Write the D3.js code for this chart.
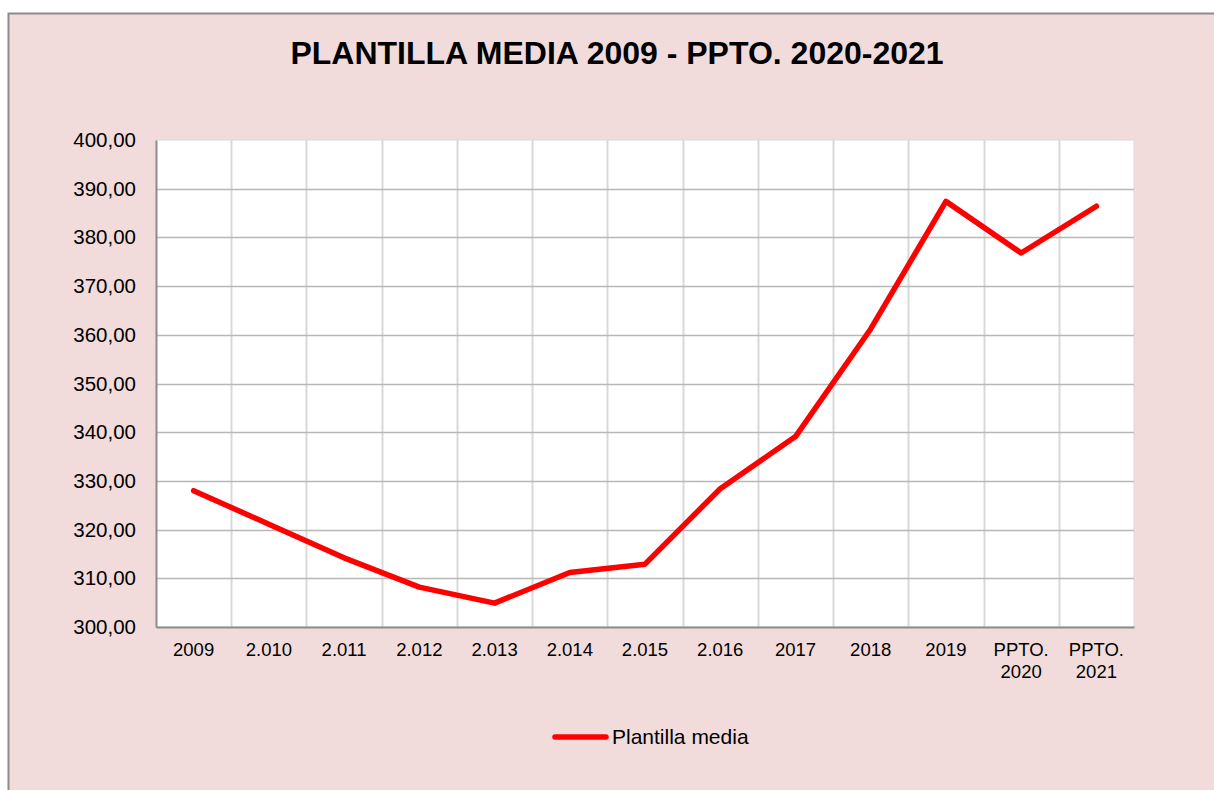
<!DOCTYPE html>
<html>
  <head>
    <meta charset="utf-8">
    <script src="https://d3js.org/d3.v7.min.js"></script>
    <title>Plantilla media</title>
    <style>
      body { margin: 0; background: #ffffff; }
      svg { display: block; font-family: "Liberation Sans", Arial, sans-serif; }
    </style>
  </head>
  <body>
  <script>
    // data
    var categories = ["2009", "2.010", "2.011", "2.012", "2.013", "2.014", "2.015",
                      "2.016", "2017", "2018", "2019", "PPTO. 2020", "PPTO. 2021"];
    var plantilla = [328.0, 321.1, 314.2, 308.2, 304.9, 311.2, 312.9,
                     328.4, 339.1, 361.2, 387.4, 376.8, 386.4];
    var yTicks = [300, 310, 320, 330, 340, 350, 360, 370, 380, 390, 400];
    var title = "PLANTILLA MEDIA 2009 - PPTO. 2020-2021";
    var seriesName = "Plantilla media";

    var width = 1214, height = 790;
    var plot = {left: 156, top: 140, right: 1134, bottom: 627};

    var svg = d3.select("body").append("svg")
              .attr("width", width)
              .attr("height", height);

    // chart area
    svg.append("rect")
       .attr("x", 8).attr("y", 13)
       .attr("width", width - 8).attr("height", height - 13)
       .style("fill", "#f2dcdb");
    svg.append("path")
       .attr("d", "M8.5," + height + "V13.5H" + width)
       .attr("fill", "none")
       .attr("stroke", "#8c8c8c")
       .attr("stroke-width", 2);

    svg.append("text")
       .attr("x", 617).attr("y", 64)
       .attr("text-anchor", "middle")
       .style("font-size", "32px")
       .style("font-weight", "bold")
       .style("fill", "#000")
       .text(title);

    var x = d3.scaleBand().domain(categories).range([plot.left, plot.right]);
    var y = d3.scaleLinear().domain([300, 400]).range([plot.bottom, plot.top]);

    svg.append("rect")
       .attr("x", plot.left).attr("y", plot.top)
       .attr("width", plot.right - plot.left).attr("height", plot.bottom - plot.top)
       .style("fill", "#ffffff")
       .attr("stroke", "#d9d9d9");

    // vertical grid on category boundaries
    svg.selectAll(".vgrid")
       .data(categories.slice(1))
       .enter().append("line")
       .attr("class", "vgrid")
       .attr("x1", function(d) { return Math.round(x(d)) + 0.5; })
       .attr("x2", function(d) { return Math.round(x(d)) + 0.5; })
       .attr("y1", plot.top).attr("y2", plot.bottom)
       .attr("stroke", "#d9d9d9").attr("stroke-width", 2);

    // horizontal grid
    svg.selectAll(".hgrid")
       .data(yTicks.slice(1, -1))
       .enter().append("line")
       .attr("class", "hgrid")
       .attr("x1", plot.left).attr("x2", plot.right)
       .attr("y1", function(d) { return Math.round(y(d)) + 0.5; })
       .attr("y2", function(d) { return Math.round(y(d)) + 0.5; })
       .attr("stroke", "#b8b8b8").attr("stroke-width", 1.5);

    // y axis
    var yAxis = svg.append("g")
       .attr("transform", "translate(" + plot.left + ",0)")
       .call(d3.axisLeft(y).tickValues(yTicks).tickSize(0).tickPadding(20)
             .tickFormat(function(d) { return d3.format(".2f")(d).replace(".", ","); }));
    yAxis.select(".domain").attr("stroke", "#8c8c8c").attr("stroke-width", 2);
    yAxis.selectAll("text").style("font-size", "20.5px").style("fill", "#000")
         .style("font-family", "'Liberation Sans', Arial, sans-serif");

    // x axis
    var xAxis = svg.append("g")
       .attr("transform", "translate(0," + plot.bottom + ")")
       .call(d3.axisBottom(x).tickSize(0).tickPadding(16));
    xAxis.select(".domain").attr("stroke", "#8c8c8c").attr("stroke-width", 2);
    xAxis.selectAll("text")
         .style("font-size", "18.5px").style("fill", "#000")
         .style("font-family", "'Liberation Sans', Arial, sans-serif")
         .each(function(d) {
           var parts = d.split(" ");
           var t = d3.select(this).text(null);
           parts.forEach(function(p, i) {
             t.append("tspan").attr("x", 0).attr("dy", i === 0 ? "0.71em" : "1.2em").text(p);
           });
         });

    // series line
    var line = d3.line()
       .x(function(d, i) { return x(categories[i]) + x.bandwidth() / 2; })
       .y(function(d) { return y(d); });

    svg.append("path")
       .datum(plantilla)
       .attr("d", line)
       .attr("fill", "none")
       .attr("stroke", "#ff0000")
       .attr("stroke-width", 5.5)
       .attr("stroke-linejoin", "round")
       .attr("stroke-linecap", "round");

    // legend
    var legend = svg.append("g").attr("transform", "translate(555,737)");
    legend.append("line")
       .attr("x1", 0).attr("x2", 51).attr("y1", 0).attr("y2", 0)
       .attr("stroke", "#ff0000").attr("stroke-width", 5.5)
       .attr("stroke-linecap", "round");
    legend.append("text")
       .attr("x", 57).attr("y", 0).attr("dy", "0.35em")
       .style("font-size", "21px").style("fill", "#000")
       .text(seriesName);
  </script>
</body>
</html>
